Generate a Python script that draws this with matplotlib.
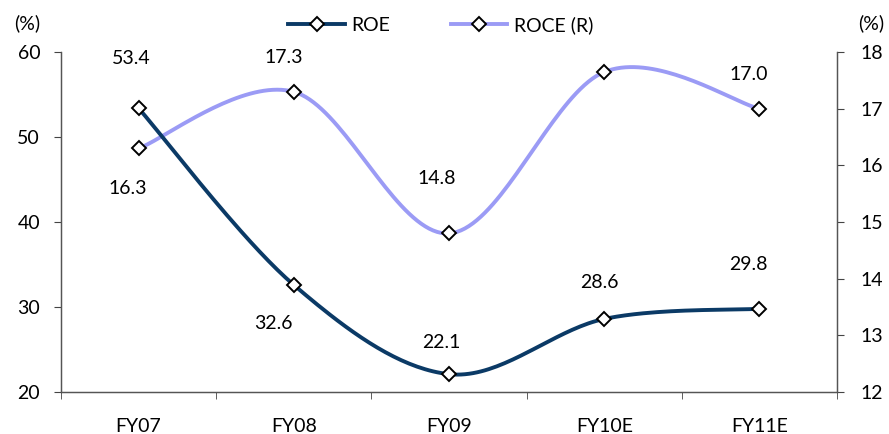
import numpy as np
import matplotlib
matplotlib.use("Agg")
import matplotlib.pyplot as plt
from matplotlib.lines import Line2D

categories = ["FY07", "FY08", "FY09", "FY10E", "FY11E"]
roe = [53.4, 32.6, 22.1, 28.6, 29.8]
roce = [16.3, 17.3, 14.8, 17.65, 17.0]
roe_labels = ["53.4", "32.6", "22.1", "28.6", "29.8"]
roce_labels = ["16.3", "17.3", "14.8", None, "17.0"]

ROE_C = "#0B3A66"
ROCE_C = "#9B9BF5"
FONT = "Lato"
FS = 14

plt.rcParams['font.family'] = [FONT, 'DejaVu Sans']


def smooth(xs, ys, n=40):
    xs = np.asarray(xs, float)
    ys = np.asarray(ys, float)
    m = len(xs)
    outx, outy = [], []
    for i in range(m - 1):
        p1x, p1y = xs[i], ys[i]
        p2x, p2y = xs[i + 1], ys[i + 1]
        p0x, p0y = (xs[i - 1], ys[i - 1]) if i > 0 else (p1x, p1y)
        p3x, p3y = (xs[i + 2], ys[i + 2]) if i + 2 < m else (p2x, p2y)
        c1x = p1x + (p2x - p0x) / 6
        c1y = p1y + (p2y - p0y) / 6
        c2x = p2x - (p3x - p1x) / 6
        c2y = p2y - (p3y - p1y) / 6
        t = np.linspace(0, 1, n)
        bx = (1 - t) ** 3 * p1x + 3 * (1 - t) ** 2 * t * c1x + 3 * (1 - t) * t ** 2 * c2x + t ** 3 * p2x
        by = (1 - t) ** 3 * p1y + 3 * (1 - t) ** 2 * t * c1y + 3 * (1 - t) * t ** 2 * c2y + t ** 3 * p2y
        outx.extend(bx)
        outy.extend(by)
    return np.array(outx), np.array(outy)


fig = plt.figure(figsize=(8.89, 4.34), dpi=100)
ax = fig.add_axes([0.0686, 0.0968, 0.873, 0.783])
ax2 = ax.twinx()

x = np.arange(len(categories))
LW = 2.8
MS = 7.5

sx, sy = smooth(x, roce)
ax2.plot(sx, sy, color=ROCE_C, lw=LW, solid_capstyle='round', zorder=2)
ax2.plot(x, roce, ls='none', marker='D', ms=MS, mfc='white', mec='black', mew=1.4, zorder=3)

sx, sy = smooth(x, roe)
ax.plot(sx, sy, color=ROE_C, lw=LW, solid_capstyle='round', zorder=2)
ax.plot(x, roe, ls='none', marker='D', ms=MS, mfc='white', mec='black', mew=1.4, zorder=3)
ax.set_zorder(ax2.get_zorder() + 1)
ax.patch.set_visible(False)

ax.set_xlim(-0.5, len(categories) - 0.5)
ax.set_ylim(20, 60)
ax2.set_ylim(12, 18)
ax.set_yticks([20, 30, 40, 50, 60])
ax2.set_yticks([12, 13, 14, 15, 16, 17, 18])

ax.set_xticks(x)
ax.set_xticklabels(categories)
ax.set_xticks(np.arange(-0.5, len(categories)), minor=True)
ax.tick_params(axis='x', which='major', length=0, pad=19, labelsize=FS)
ax.tick_params(axis='x', which='minor', length=5, direction='out', color='#444444')
ax.tick_params(axis='y', length=5, direction='out', color='#444444', labelsize=FS, pad=10)
ax2.tick_params(axis='y', length=5, direction='out', color='#444444', labelsize=FS, pad=12)

for a in (ax, ax2):
    a.spines['top'].set_visible(False)
    for s in ('left', 'right', 'bottom'):
        a.spines[s].set_color('#555555')
        a.spines[s].set_linewidth(0.9)

# label offsets in points
roe_off = [(-5, 36), (-14.4, -28), (-5.8, 23), (-3.6, 26), (-8, 31.7)]
for i, (v, lab) in enumerate(zip(roe, roe_labels)):
    dx, dy = roe_off[i]
    ax.annotate(lab, (x[i], v), xytext=(dx, dy), textcoords='offset points',
                ha='center', va='center', fontsize=FS)

roce_off = [(-8, -28.8), (-7.2, 24.5), (-8.6, 39.6), (0, 0), (-8, 24.5)]
for i, (v, lab) in enumerate(zip(roce, roce_labels)):
    if lab is None:
        continue
    dx, dy = roce_off[i]
    ax2.annotate(lab, (x[i], v), xytext=(dx, dy), textcoords='offset points',
                 ha='center', va='center', fontsize=FS)

fig.text(27 / 889, 1 - 23 / 434, "(%)", ha='center', va='center', fontsize=FS)
fig.text(871 / 889, 1 - 23 / 434, "(%)", ha='center', va='center', fontsize=FS)

h1 = Line2D([], [], color=ROE_C, lw=LW, marker='D', ms=MS, mfc='white', mec='black', mew=1.4)
h2 = Line2D([], [], color=ROCE_C, lw=LW, marker='D', ms=MS, mfc='white', mec='black', mew=1.4)
fig.legend([h1, h2], ["ROE", "ROCE (R)"], loc='center', bbox_to_anchor=(441 / 889, 1 - 25 / 434),
           ncol=2, frameon=False, fontsize=FS, handlelength=2.9, columnspacing=3.1,
           handletextpad=0.36, borderpad=0)

fig.savefig("out.png", dpi=100)
